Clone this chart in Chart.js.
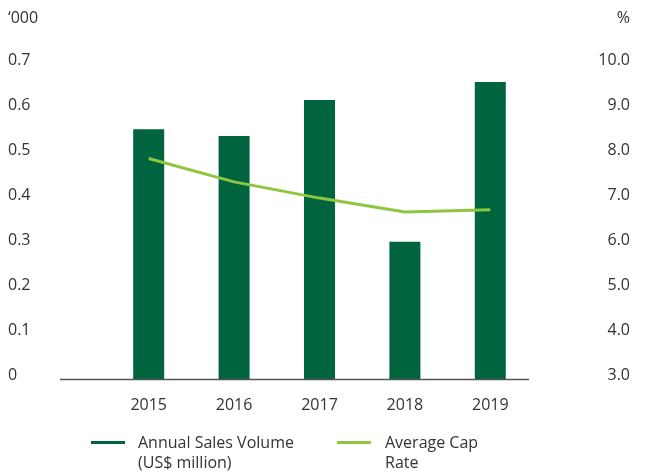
<!DOCTYPE html>
<html>
<head>
<meta charset="utf-8">
<script src="https://cdn.jsdelivr.net/npm/chart.js@4"></script>
<style>
  body { margin:0; background:#fff; }
  #wrap { position:relative; width:647px; height:472px; }
  .leg { position:absolute; font-family:"Open Sans",sans-serif; font-size:16px; line-height:20px; color:#333; }
  .sw { position:absolute; height:3px; width:34px; }
</style>
</head>
<body>
<div id="wrap">
  <canvas id="myChart" width="647" height="472"></canvas>
  <div class="sw" id="sw1" style="left:91px;top:441px;"></div>
  <div class="leg" style="left:138px;top:432px;">Annual Sales Volume<br>(US$ million)</div>
  <div class="sw" id="sw2" style="left:337px;top:441px;"></div>
  <div class="leg" style="left:385px;top:432px;">Average Cap<br>Rate</div>
</div>
<script>
var years=['2015','2016','2017','2018','2019'];
var sales=[0.555,0.54,0.62,0.305,0.66];
var capRate=[7.9,7.38,7.02,6.71,6.76];
var leftTicks=[0,0.1,0.2,0.3,0.4,0.5,0.6,0.7];
var rightTicks=[3,4,5,6,7,8,9,10];

var darkGreen='#00653f';
var lime='#8dc63f';
var txt='#333333';
document.getElementById('sw1').style.background=darkGreen;
document.getElementById('sw2').style.background=lime;

var extras={
  id:'extras',
  afterDraw:function(c){
    var ctx=c.ctx, a=c.chartArea;
    ctx.save();
    ctx.strokeStyle='#555';
    ctx.lineWidth=1.5;
    ctx.beginPath();
    ctx.moveTo(60,a.bottom+0.5);
    ctx.lineTo(a.right-4,a.bottom+0.5);
    ctx.stroke();
    ctx.fillStyle=txt;
    ctx.font='16px "Open Sans"';
    ctx.textBaseline='middle';
    ctx.textAlign='left';
    ctx.fillText('\u2018000',8,18);
    ctx.textAlign='right';
    ctx.fillText('%',630,18);
    ctx.restore();
  }
};

var ctx=document.getElementById('myChart').getContext('2d');
var chart=new Chart(ctx,{
  type:'bar',
  data:{
    labels:years,
    datasets:[{
      type:'line',
      label:'Average Cap Rate',
      data:capRate,
      yAxisID:'y2',
      borderColor:lime,
      borderWidth:3,
      pointRadius:0,
      tension:0,
      order:0
    },{
      label:'Annual Sales Volume (US$ million)',
      data:sales,
      yAxisID:'y',
      backgroundColor:darkGreen,
      barPercentage:0.363,
      categoryPercentage:1,
      order:1
    }]
  },
  options:{
    responsive:false,
    animation:false,
    layout:{padding:{left:8,right:17,top:64,bottom:53}},
    plugins:{legend:{display:false},tooltip:{enabled:false}},
    scales:{
      x:{
        offset:true,
        grid:{display:false,drawTicks:false},
        border:{display:false},
        ticks:{color:txt,font:{family:'Open Sans',size:16},padding:17},
        afterFit:function(s){s.height=40;}
      },
      y:{
        position:'left',
        min:0,max:0.7,
        grid:{display:false,drawTicks:false},
        border:{display:false},
        afterBuildTicks:function(s){s.ticks=leftTicks.map(function(v){return {value:v};});},
        ticks:{color:txt,font:{family:'Open Sans',size:16},crossAlign:'far',labelOffset:-4,
          callback:function(v){return v===0?'0':v.toFixed(1);}},
        afterFit:function(s){s.width=98;}
      },
      y2:{
        position:'right',
        min:3,max:10,
        grid:{display:false,drawTicks:false},
        border:{display:false},
        afterBuildTicks:function(s){s.ticks=rightTicks.map(function(v){return {value:v};});},
        ticks:{color:txt,font:{family:'Open Sans',size:16},crossAlign:'far',labelOffset:-4,
          callback:function(v){return v.toFixed(1);}},
        afterFit:function(s){s.width=97;}
      }
    }
  },
  plugins:[extras]
});
</script>
</body>
</html>
